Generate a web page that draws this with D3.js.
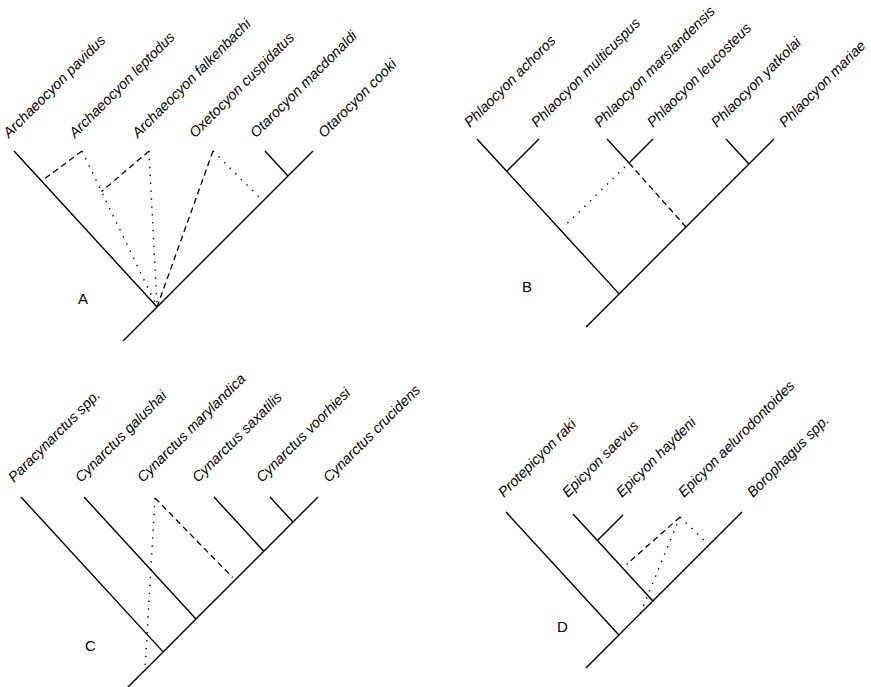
<!DOCTYPE html>
<html><head><meta charset="utf-8">
<script src="https://cdn.jsdelivr.net/npm/d3@7"></script>
<style>html,body{margin:0;padding:0;background:#fff;} svg{display:block;background:#fff;}</style>
</head><body><svg id="chart" width="871" height="687"></svg>
<script>
// ================= DATA =================
// Panel A
const taxaA = ["Archaeocyon pavidus","Archaeocyon leptodus","Archaeocyon falkenbachi","Oxetocyon cuspidatus","Otarocyon macdonaldi","Otarocyon cooki"];
const tipsA = [0, 68, 135, 199, 251, 299];
const liftA = [0, 0, 0, 0, 0, 0];
const treeA = [0, [4, 5]];
const floatsA = [];
const altsA = [
  {style:"dashed", from:{tip:1}, to:{lineage:0, depth:30}},
  {style:"dotted", from:{tip:1}, to:{root:true}},
  {style:"dashed", from:{tip:2}, to:{along:[{tip:1},{root:true}], t:0.26}},
  {style:"dotted", from:{tip:2}, to:{root:true}},
  {style:"dashed", from:{tip:3}, to:{root:true}},
  {style:"dotted", from:{tip:3}, to:{lineage:5, depth:50}, stop:0.93}
];

// Panel B
const taxaB = ["Phlaocyon achoros","Phlaocyon multicuspus","Phlaocyon marslandensis","Phlaocyon leucosteus","Phlaocyon yatkolai","Phlaocyon mariae"];
const tipsB = [0, 62, 130, 176, 249, 297];
const liftB = [0, 0, 0, 0, 0, 0];
const treeB = [[0, 1], [4, 5]];
const floatsB = [[2, 3]];
const altsB = [
  {style:"dotted", from:{node:[2,3]}, to:{lineage:0, depth:91}, start:0.06, stop:0.92},
  {style:"dashed", from:{node:[2,3]}, to:{lineage:5, depth:88}}
];

// Panel C
const taxaC = ["Paracynarctus spp.","Cynarctus galushai","Cynarctus marylandica","Cynarctus saxatilis","Cynarctus voorhiesi","Cynarctus crucidens"];
const tipsC = [0, 63, 134, 193, 249, 297];
const liftC = [0, 0, 1, 0, 0, 0];
const treeC = [0, [1, [3, [4, 5]]]];
const floatsC = [];
const altsC = [
  {style:"dashed", from:{tip:2}, to:{lineage:5, depth:83}, stop:0.97},
  {style:"dotted", from:{tip:2}, to:{lineage:5, depth:173}}
];

// Panel D
const taxaD = ["Protepicyon raki","Epicyon saevus","Epicyon haydeni","Epicyon aelurodontoides","Borophagus spp."];
const tipsD = [0, 67, 117, 174, 236];
const liftD = [0, 2, 3, 5, 0];
const treeD = [0, [[1, 2], 4]];
const floatsD = [];
const altsD = [
  {style:"dashed", from:{tip:3}, to:{lineage:1, depth:56}, stop:0.93},
  {style:"dotted", from:{tip:3}, to:{lineage:4, depth:33}, stop:0.85},
  {style:"dotted", from:{tip:3}, to:{lineage:4, depth:102}}
];

const panelLetters = ["A", "B", "C", "D"];

// ================= LAYOUT =================
const sL = 1.09;  // slope of down-right branches
const sR = 1.0;   // slope of down-left branches
const layout = [
  {x0:14,  tipY:151, stem:34, lx:78,  ly:304, labDy:-12.5, labShift:[-5,-7,-11,-18,-9,11]},
  {x0:477, tipY:139, stem:33, lx:522, ly:292, labDy:-11,   labShift:[-7,-2,-7,0,-9,11]},
  {x0:21,  tipY:497, stem:36, lx:85,  ly:651, labDy:-14,   labShift:[-7,-3,-12,-16,-8,11]},
  {x0:506, tipY:512, stem:33, lx:557, ly:632, labDy:-14,   labShift:[-2,-5,-1,4,11]}
];
const panels = [
  {taxa:taxaA, tips:tipsA, lift:liftA, tree:treeA, floats:floatsA, alts:altsA},
  {taxa:taxaB, tips:tipsB, lift:liftB, tree:treeB, floats:floatsB, alts:altsB},
  {taxa:taxaC, tips:tipsC, lift:liftC, tree:treeC, floats:floatsC, alts:altsC},
  {taxa:taxaD, tips:tipsD, lift:liftD, tree:treeD, floats:floatsD, alts:altsD}
];

const svg = d3.select("#chart");
svg.append("rect").attr("width",871).attr("height",687).attr("fill","#fff");

const dashes = {dashed:"6,4", dotted:"1.4,6.5"};
const lineGen = d3.line();

panels.forEach((p, k) => {
  const L = layout[k];
  const maxT = d3.max(p.tips);
  const sx = d3.scaleLinear().domain([0, maxT]).range([L.x0, L.x0 + maxT]);
  const sy = d3.scaleLinear().domain([0, 100]).range([L.tipY, L.tipY + 100]);
  const g = svg.append("g");

  const tipPt = i => [sx(p.tips[i]), sy(p.lift[i])];
  const leaves = n => Array.isArray(n) ? n.flatMap(leaves) : [n];
  const nodePt = n => {
    if (!Array.isArray(n)) return tipPt(n);
    const l = leaves(n);
    const [xa, ya] = tipPt(l[0]);
    const [xb, yb] = tipPt(l[l.length - 1]);
    const x = (sL * xa + sR * xb + yb - ya) / (sL + sR);
    return [x, ya + sL * (x - xa)];
  };
  const lineagePt = (i, d) => {
    const [xt, yt] = tipPt(i);
    const y = sy(d);
    const dir = (i === p.tips.length - 1) ? -1 : 1;
    return [dir > 0 ? xt + (y - yt) / sL : xt - (y - yt) / sR, y];
  };
  const ref = r => {
    if (r.tip !== undefined) return tipPt(r.tip);
    if (r.node !== undefined) return nodePt(r.node);
    if (r.lineage !== undefined) return lineagePt(r.lineage, r.depth);
    if (r.root) return nodePt(p.tree);
    if (r.along) {
      const a = ref(r.along[0]), b = ref(r.along[1]);
      return [a[0] + (b[0] - a[0]) * r.t, a[1] + (b[1] - a[1]) * r.t];
    }
  };

  // solid branches
  const segs = [];
  const walk = n => {
    if (!Array.isArray(n)) return;
    const P = nodePt(n);
    n.forEach(c => { segs.push([nodePt(c), P]); walk(c); });
  };
  walk(p.tree);
  p.floats.forEach(walk);
  const R = nodePt(p.tree);
  const stemDy = sy(L.stem) - sy(0);
  segs.push([R, [R[0] - stemDy / sR, R[1] + stemDy]]);

  g.selectAll("path.solid").data(segs).join("path")
    .attr("class", "solid")
    .attr("d", d => lineGen(d))
    .attr("fill", "none").attr("stroke", "#000").attr("stroke-width", 1.4)
    .attr("stroke-linecap", "butt");

  // alternative (dashed / dotted) placements
  const altSegs = p.alts.map(a => {
    const A = ref(a.from), B = ref(a.to);
    const s0 = a.start || 0, s1 = a.stop || 1;
    return {style: a.style, pts: [
      [A[0] + (B[0] - A[0]) * s0, A[1] + (B[1] - A[1]) * s0],
      [A[0] + (B[0] - A[0]) * s1, A[1] + (B[1] - A[1]) * s1]
    ]};
  });
  g.selectAll("path.alt").data(altSegs).join("path")
    .attr("class", "alt")
    .attr("d", d => lineGen(d.pts))
    .attr("fill", "none").attr("stroke", "#000")
    .attr("stroke-width", d => d.style === "dotted" ? 1.4 : 1.3)
    .attr("stroke-dasharray", d => dashes[d.style]);

  // taxon labels
  g.selectAll("text.taxon").data(p.taxa).join("text")
    .attr("class", "taxon")
    .attr("transform", (d, i) => `translate(${sx(p.tips[i] + L.labShift[i])},${sy(0) + L.labDy}) rotate(-45)`)
    .attr("font-family", "'Liberation Sans', Arial, sans-serif")
    .attr("font-style", "italic")
    .attr("font-size", 14.4)
    .attr("fill", "#000")
    .text(d => d);

  // panel letter
  g.append("text")
    .attr("x", L.lx).attr("y", L.ly)
    .attr("font-family", "'Liberation Sans', Arial, sans-serif")
    .attr("font-size", 15)
    .attr("fill", "#000")
    .text(panelLetters[k]);
});
</script>
</body></html>
